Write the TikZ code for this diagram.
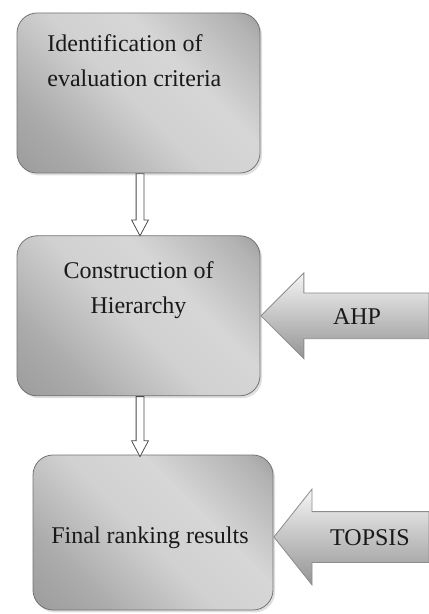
\documentclass[tikz,border=0pt]{standalone}
\usepackage{fontspec}
\setmainfont{Liberation Serif}
\usetikzlibrary{positioning, shapes.arrows, shadows}
% metallic grey fill of the stage boxes
\pgfdeclarehorizontalshading{metal}{100bp}{color(0bp)=(black!45); color(28bp)=(black!33); color(48bp)=(black!18); color(62bp)=(black!16); color(80bp)=(black!30); color(100bp)=(black!58)}
\tikzset{
    %Define style for the stage boxes
    stagebox/.style={
           rectangle,
           rounded corners=10pt,
           draw=black!55, line width=0.4pt,
           shading=metal, shading angle=45,
           minimum width=121.5pt,
           minimum height=80pt,
           drop shadow={shadow xshift=1pt, shadow yshift=-1.2pt, opacity=0.25}},
 %
    stagetext/.style={
           font=\fontsize{12}{17.5}\selectfont,
           text=black!90,
           inner sep=0pt},
 %
    % hollow arrow between stages
    hollowarrow/.style={
           single arrow,
           draw=black!70, line width=0.4pt,
           fill=white,
           inner sep=0pt,
           text width=3.5pt,
           single arrow head extend=2.25pt,
           single arrow tip angle=56,
           shape border rotate=270,
           anchor=tail},
 %
    % block arrow for the method
    methodarrow/.style={
           single arrow,
           draw=black!45, line width=0.4pt,
           top color=black!4, bottom color=black!42,
           inner sep=0pt,
           shape border rotate=180,
           anchor=tip}
}
\begin{document}
\begin{tikzpicture}[x=0.5pt, y=-0.5pt]
  \useasboundingbox (0,0) rectangle (428,614);

  % stages
  \node[stagebox] (ident) at (138.5,93) {};
  \node[stagebox, below=31pt of ident] (hier) {};
  \node[stagebox, minimum width=120pt, minimum height=77.5pt] (rank) at (153,532.5) {};

  \node[stagetext, anchor=west, align=left] (identtext) at (47,60.5)
       {Identification of\\evaluation criteria};
  \node[stagetext, align=center] (hiertext) at (138.5,290)
       {Construction of\\Hierarchy};
  \node[stagetext] (ranktext) at (150,538) {Final ranking results};

  % connectors between stages
  \node[hollowarrow, minimum height=31pt] (step1) at ([xshift=0.75pt]ident.south) {};
  \node[hollowarrow, minimum height=30pt] (step2) at ([xshift=0.75pt]hier.south) {};

  % methods
  \node[methodarrow, minimum height=84pt, text height=11.25pt, text depth=11.25pt,
        single arrow head extend=10pt, single arrow tip angle=90]
        (ahp) at (hier.east) {};
  \node[stagetext] (ahptext) at (357,317) {AHP};

  \node[methodarrow, minimum height=77.5pt, text height=12.5pt, text depth=12.5pt,
        single arrow head extend=11.25pt, single arrow tip angle=103]
        (topsis) at (rank.east |- 0,537) {};
  \node[stagetext] (topsistext) at (370,538) {TOPSIS};
\end{tikzpicture}
\end{document}
